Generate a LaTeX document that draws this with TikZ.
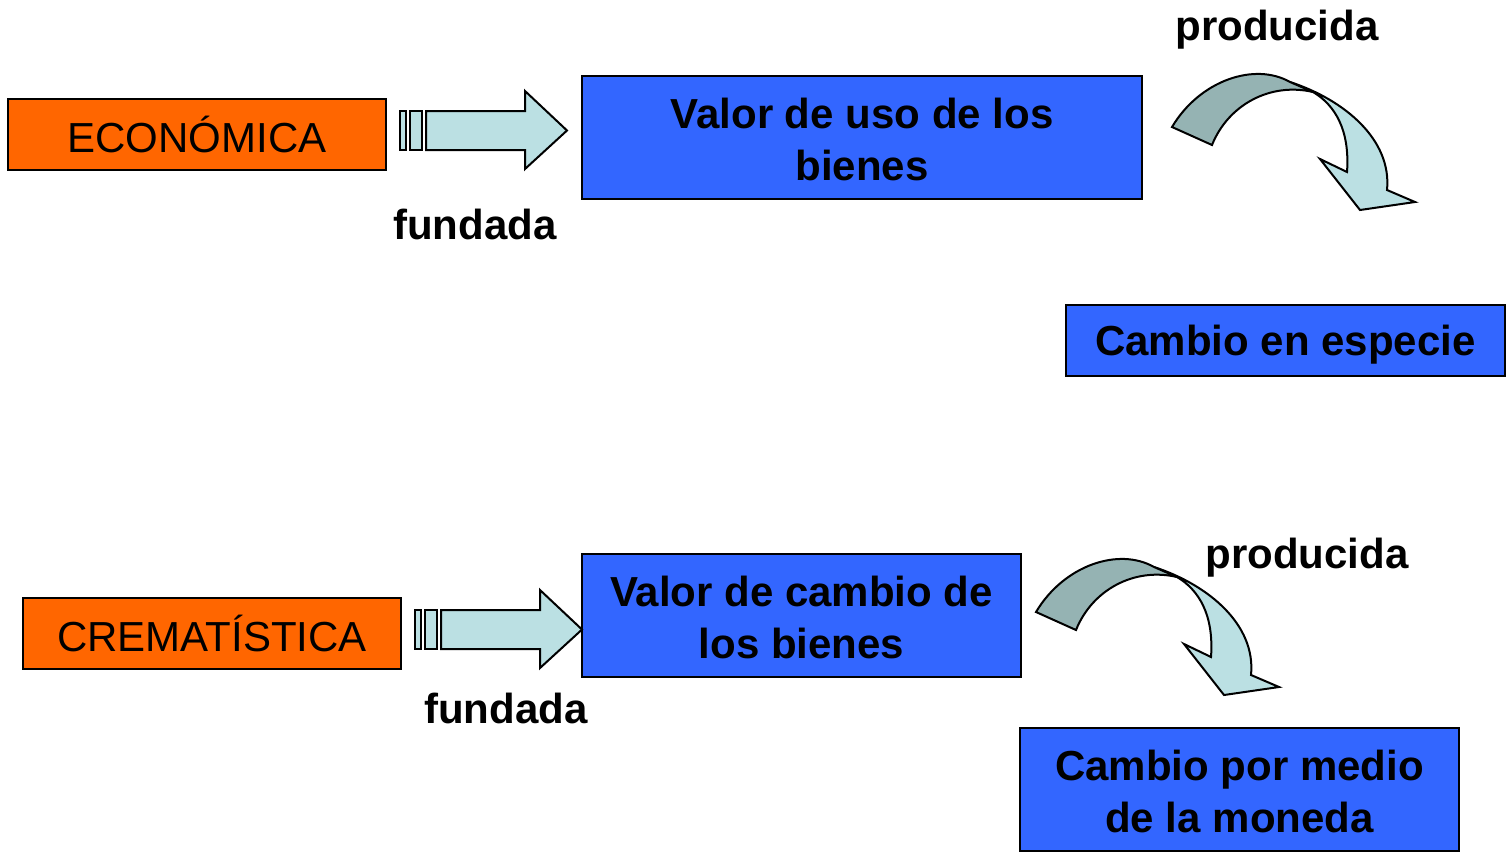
\documentclass[tikz,border=0pt]{standalone}
\usepackage{fontspec}
\setmainfont{Liberation Sans}
\definecolor{orng}{HTML}{FF6600}
\definecolor{blu}{HTML}{3366FF}
\definecolor{lcyan}{HTML}{BBE0E3}
\definecolor{dcyan}{HTML}{95B3B3}
\begin{document}
\begin{tikzpicture}[x=0.5pt,y=-0.5pt,
  box/.style={draw=black, line width=1pt, inner sep=0pt, align=center, font=\fontsize{21}{26}\selectfont},
  obox/.style={box, fill=orng, minimum width=189pt, minimum height=35.5pt},
  bbox/.style={box, fill=blu, font=\fontsize{21}{26}\selectfont\bfseries},
  btxt/.style={bbox, fill=none, draw=none},
  lbl/.style={font=\fontsize{21}{26}\selectfont\bfseries, inner sep=0pt},
  shp/.style={draw=black, line width=1pt, line join=miter},
  lshp/.style={shp, fill=lcyan},
  dshp/.style={shp, fill=dcyan}]
\useasboundingbox[fill=white] (0,0) rectangle (1508,858);

% boxes
\node[obox] (eco) at (197,134.5) {ECONÓMICA};
\node[bbox, minimum width=280pt, minimum height=61.5pt] (valuso) at (862,137.5) {};
\node[btxt] (valusotxt) at ([yshift=-1pt]valuso.center) {Valor de uso de los\\bienes};
\node[bbox, minimum width=219.5pt, minimum height=35.5pt] (cesp) at (1285.5,340.5) {};
\node[btxt] (cesptxt) at ([yshift=-2pt]cesp.center) {Cambio en especie};
\node[obox] (crem) at (212,633.5) {CREMATÍSTICA};
\node[bbox, minimum width=219.5pt, minimum height=61.5pt] (valcam) at (801.5,615.5) {};
\node[btxt] (valcamtxt) at ([yshift=-1pt]valcam.center) {Valor de cambio de\\los bienes};
\node[bbox, minimum width=219.5pt, minimum height=61.5pt] (cmon) at (1239.5,789.5) {};
\node[btxt] (cmontxt) at ([yshift=-1.2pt]cmon.center) {Cambio por medio\\de la moneda};

% labels
\node[lbl] (fund1) at (475,224) {fundada};
\node[lbl] (prod1) at (1277,30) {producida};
\node[lbl] (fund2) at (506,708) {fundada};
\node[lbl] (prod2) at (1307,558) {producida};

% striped arrows
\foreach \dx/\dy in {0/0, 15/499} {
  \begin{scope}[shift={(\dx,\dy)}]
    \draw[lshp] (400,111) rectangle (406,150);
    \draw[lshp] (410,111) rectangle (422,150);
    \draw[lshp] (426,111) -- (525,111) -- (525,91) -- (567,130.5) -- (525,169) -- (525,150) -- (426,150) -- cycle;
  \end{scope}
}

% curved arrows
\foreach \dx/\dy in {0/0, -136/485} {
  \begin{scope}[shift={(\dx,\dy)}]
    \draw[lshp] (1290,82) .. controls (1345,100) and (1392,140) .. (1387,190)
      -- (1415,202) -- (1360,210) -- (1320,159) -- (1347,172)
      .. controls (1350,130) and (1335,105) .. (1313,92) -- cycle;
    \draw[dshp] (1172,127) .. controls (1200,80) and (1255,62) .. (1290,82)
      -- (1313,92) .. controls (1270,82) and (1228,105) .. (1212,145) -- cycle;
  \end{scope}
}
\end{tikzpicture}
\end{document}
